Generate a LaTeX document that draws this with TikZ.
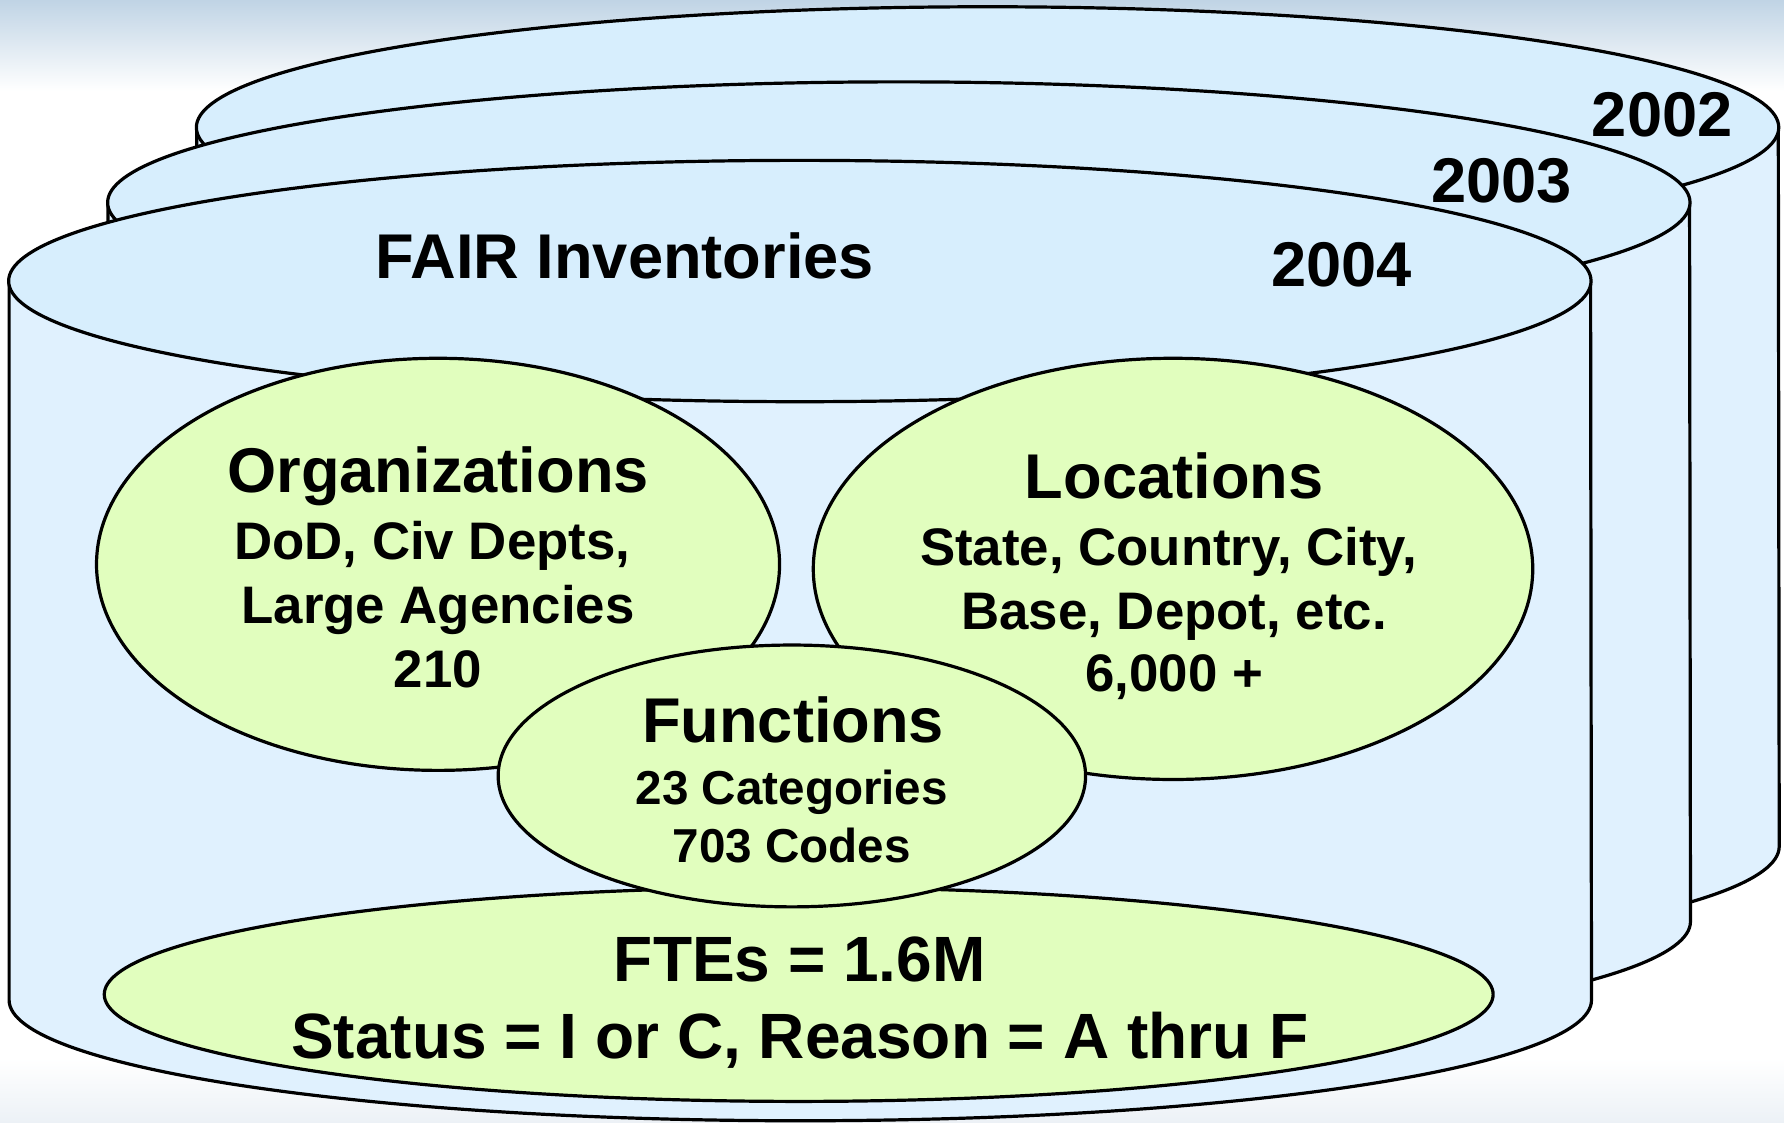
\documentclass[tikz,border=0pt]{standalone}
\usepackage{fontspec}
\setmainfont{Liberation Sans}
\definecolor{bgtop}{RGB}{192,212,229}
\definecolor{bgbot}{RGB}{236,241,246}
\definecolor{bodyblue}{RGB}{224,241,254}
\definecolor{topblue}{RGB}{215,238,253}
\definecolor{greenfill}{RGB}{225,254,190}
\newcommand\mycyl[3]{%
  \fill[bodyblue] (#1-695,#2) -- (#1-695,#2+#3) arc[start angle=180,end angle=360,x radius=6.95cm,y radius=1.06cm] -- (#1+695,#2) -- cycle;
  \draw[outl] (#1-695,#2) -- (#1-695,#2+#3) arc[start angle=180,end angle=360,x radius=6.95cm,y radius=1.06cm] -- (#1+695,#2);
  \filldraw[fill=topblue,outl] (#1,#2) ellipse[x radius=6.95cm,y radius=1.06cm];
}
\begin{document}
\begin{tikzpicture}[x=0.01cm,y=-0.01cm,
  outl/.style={draw=black,line width=0.8pt},
  ell/.style={fill=greenfill,draw=black,line width=0.8pt},
  txt/.style={inner sep=0pt,anchor=base,font=\bfseries},
  big/.style={txt,font=\bfseries\fontsize{15.8}{18}\selectfont},
  mid/.style={txt,font=\bfseries\fontsize{13.2}{15}\selectfont},
  sml/.style={txt,font=\bfseries\fontsize{11.9}{14}\selectfont},
  fte/.style={txt,font=\bfseries\fontsize{16}{19}\selectfont}]
\useasboundingbox (0,0) rectangle (1568,987);
\fill[white] (0,0) rectangle (1568,987);
\shade[top color=bgtop,bottom color=white] (0,0) rectangle (1568,80);
\shade[top color=white,bottom color=bgbot] (0,930) rectangle (1568,987);
% cylinders, back to front
\mycyl{868}{112}{632}
\mycyl{790}{178}{632}
\mycyl{703}{247}{632}
% green ellipses
\filldraw[ell] (385,496) ellipse[x radius=3.00cm,y radius=1.81cm];
\filldraw[ell] (1031,500) ellipse[x radius=3.16cm,y radius=1.85cm];
\filldraw[ell] (702,874) ellipse[x radius=6.10cm,y radius=0.94cm];
\filldraw[ell] (696,682) ellipse[x radius=2.58cm,y radius=1.15cm];
% texts
\node[big] (y2002) at (1461,120) {2002};
\node[big] (y2003) at (1320,178) {2003};
\node[big] (y2004) at (1179,252) {2004};
\node[big] (fair) at (549,245) {FAIR Inventories};
\node[big] (org) at (385,433) {Organizations};
\node[mid] (org1) at (380,492) {DoD, Civ Depts,};
\node[mid] (org2) at (385,548) {Large Agencies};
\node[mid] (org3) at (385,604) {210};
\node[big] (loc) at (1032,438) {Locations};
\node[mid] (loc1) at (1027,497) {State, Country, City,};
\node[mid] (loc2) at (1032,553) {Base, Depot, etc.};
\node[mid] (loc3) at (1032,608) {6,000 +};
\node[big] (fun) at (697,653) {Functions};
\node[sml] (fun1) at (696,707) {23 Categories};
\node[sml] (fun2) at (696,758) {703 Codes};
\node[fte] (fte1) at (703,863) {FTEs = 1.6M};
\node[fte] (fte2) at (703,930) {Status = I or C, Reason = A thru F};
\end{tikzpicture}
\end{document}
